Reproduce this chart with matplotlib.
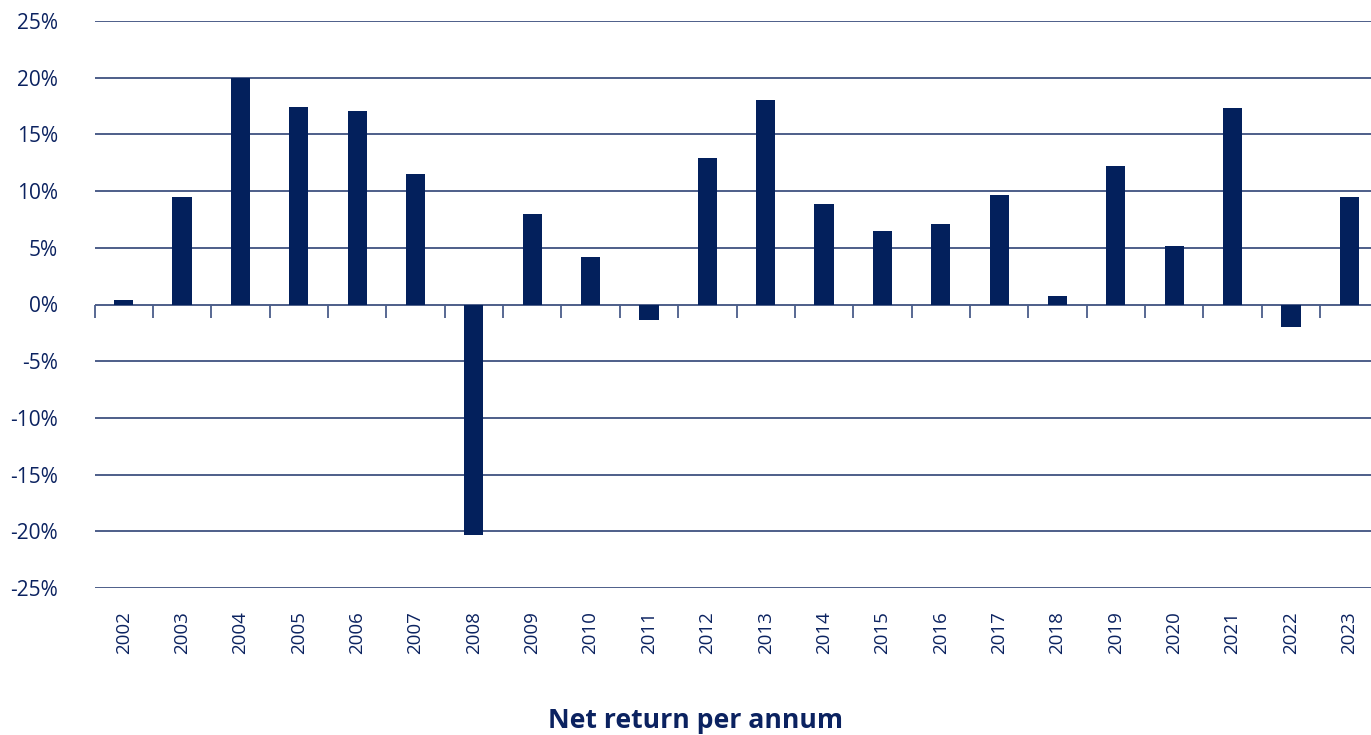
import matplotlib
matplotlib.use("Agg")
import matplotlib.pyplot as plt
import numpy as np

years = ["2002", "2003", "2004", "2005", "2006", "2007", "2008", "2009", "2010", "2011", "2012",
         "2013", "2014", "2015", "2016", "2017", "2018", "2019", "2020", "2021", "2022", "2023"]
returns = [0.4, 9.5, 20.0, 17.4, 17.1, 11.5, -20.3, 8.0, 4.2, -1.4, 12.9,
           18.0, 8.9, 6.5, 7.1, 9.7, 0.75, 12.2, 5.2, 17.3, -2.0, 9.5]
y_ticks = [-25, -20, -15, -10, -5, 0, 5, 10, 15, 20, 25]
title = "Net return per annum"

navy = "#03205c"
text_c = "#0b2260"
grid_c = "#1c336a"

plt.rcParams['font.family'] = ['Open Sans', 'DejaVu Sans']

fig = plt.figure(figsize=(13.71, 7.35), dpi=100)
left_px, right_px = 94.5, 1378.5
ax = fig.add_axes([left_px/1371, 1 - 588/735, (right_px - left_px)/1371, (588 - 21)/735])

x = np.arange(len(years))
ax.set_xlim(-0.5, len(years) - 0.5)
ax.set_ylim(-25, 25)

for t in y_ticks:
    ax.axhline(t, color=grid_c, lw=1.1, zorder=1)

ax.bar(x, returns, width=0.33, color=navy, zorder=3)

# category boundary ticks below zero line
bounds = np.arange(len(years) + 1) - 0.5
ax.vlines(bounds, -1.15, 0, color="#4a5d8a", lw=1.3, zorder=2, clip_on=False)

for s in ax.spines.values():
    s.set_visible(False)

ax.set_yticks(y_ticks)
ax.set_yticklabels([f"{t}%" for t in y_ticks])
ax.tick_params(axis='y', length=0, pad=26.5, labelsize=15, labelcolor=text_c)
ax.set_xticks(x)
ax.set_xticklabels(years, rotation=90)
ax.tick_params(axis='x', length=0, pad=17, labelsize=13.5, labelcolor=text_c)

fig.text(695/1371, 1 - 721/735, title, ha='center', va='center',
         fontsize=19.2, fontweight='bold', color=text_c)

fig.savefig("out.png", dpi=100)
